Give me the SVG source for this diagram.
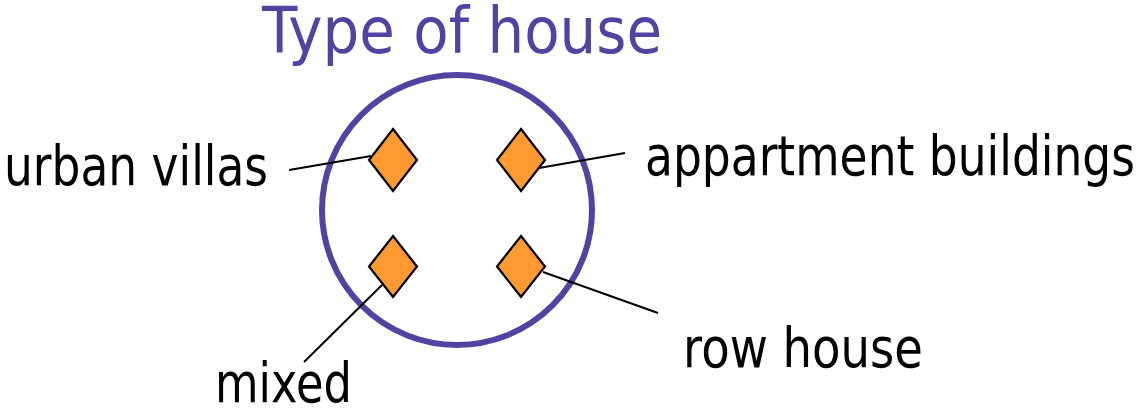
<svg xmlns="http://www.w3.org/2000/svg" width="1141" height="409" viewBox="0 0 1141 409">
<style>
.lbl{font-family:"DejaVu Sans","Liberation Sans",sans-serif;font-size:56px;fill:#000}
.title{font-family:"DejaVu Sans","Liberation Sans",sans-serif;font-size:64px;fill:#5243A3}
.dia{fill:#FF9A33;stroke:#000;stroke-width:2.2;stroke-linejoin:miter}
.con{stroke:#000;stroke-width:2;fill:none}
</style>
<rect width="1141" height="409" fill="#fff"/>
<text class="title" x="262" y="53" textLength="400" lengthAdjust="spacingAndGlyphs">Type of house</text>
<g id="circle">
<circle cx="457" cy="210" r="135" fill="none" stroke="#5243A3" stroke-width="6"/>
</g>
<g id="connectors">
<line class="con" x1="289" y1="170" x2="371" y2="156"/>
<line class="con" x1="539" y1="168" x2="625" y2="153"/>
<line class="con" x1="382" y1="285" x2="304" y2="362"/>
<line class="con" x1="543" y1="272" x2="658" y2="313"/>
</g>
<g id="urban-villas">
<polygon class="dia" points="393,129 417,160 393,191 369,160"/>
<text class="lbl" x="4" y="185" textLength="264" lengthAdjust="spacingAndGlyphs">urban villas</text>
</g>
<g id="appartment-buildings">
<polygon class="dia" points="521,129 545,160 521,191 497,160"/>
<text class="lbl" x="645" y="175" textLength="490" lengthAdjust="spacingAndGlyphs">appartment buildings</text>
</g>
<g id="mixed">
<polygon class="dia" points="393,236 417,266.5 393,297 369,266.5"/>
<text class="lbl" x="215" y="402" textLength="137" lengthAdjust="spacingAndGlyphs">mixed</text>
</g>
<g id="row-house">
<polygon class="dia" points="521,236 545,266.5 521,297 497,266.5"/>
<text class="lbl" x="683" y="367" textLength="240" lengthAdjust="spacingAndGlyphs">row house</text>
</g>
</svg>
